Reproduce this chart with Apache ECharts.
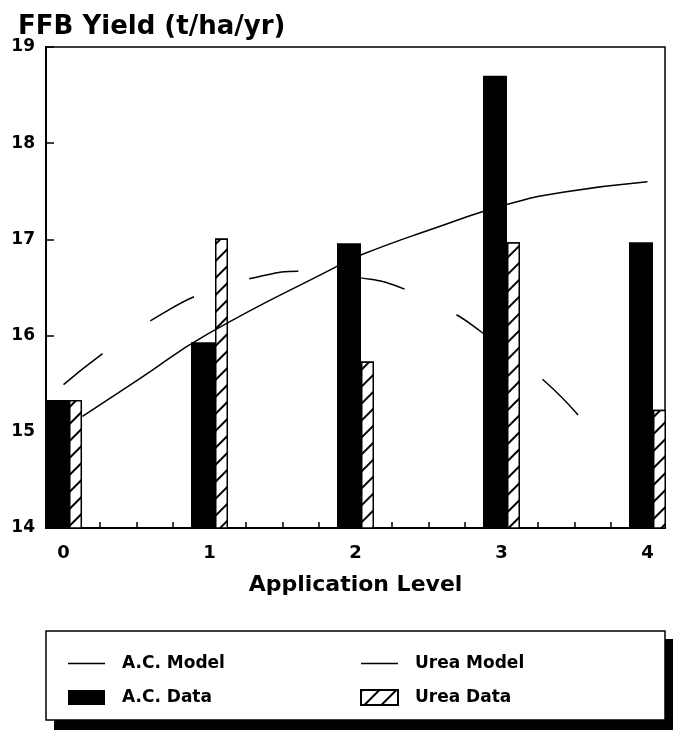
<!DOCTYPE html>
<html>
<head>
<meta charset="utf-8">
<script src="https://cdn.jsdelivr.net/npm/echarts@6/dist/echarts.min.js"></script>
<style>
html,body{margin:0;padding:0;background:#fff;}
#chart{width:673px;height:737px;}
</style>
</head>
<body>
<div id="chart"></div>
<script>
// ---- data ----
var levels = [0, 1, 2, 3, 4];
var acData = [15.33, 15.93, 16.96, 18.70, 16.97];
var ureaData = [15.33, 17.01, 15.73, 16.97, 15.23];
var acModelX = [0.13, 0.52, 0.98, 1.86, 2.04, 2.51, 3.03, 3.42, 4.0];
var acModelY = [15.16, 15.55, 16.01, 16.71, 16.84, 17.10, 17.36, 17.49, 17.60];
var ureaModelX = [0, 0.32, 0.68, 0.97, 1.33, 1.64, 2.04, 2.29, 2.64, 2.86, 3.30, 3.59];
var ureaModelY = [15.49, 15.87, 16.23, 16.45, 16.61, 16.67, 16.60, 16.51, 16.26, 16.04, 15.52, 15.06];
var yTicks = [14, 15, 16, 17, 18, 19];
var xMinorTicks = [0.25, 0.5, 0.75, 1.25, 1.5, 1.75, 2.25, 2.5, 2.75, 3.25, 3.5, 3.75];

function pairs(xs, ys) { return xs.map(function (x, i) { return [x, ys[i]]; }); }

var FONT = 'DejaVu Sans';
var hatch = {
  symbol: 'rect', symbolSize: 1,
  dashArrayX: [1, 0], dashArrayY: [1.6, 9.5],
  rotation: -Math.PI / 4,
  color: '#000', backgroundColor: '#fff'
};
var lineIcon = 'path://M0,0H37V1.5H0Z';

var chart = echarts.init(document.getElementById('chart'), null, {renderer: 'canvas'});
chart.setOption({
  animation: false,
  backgroundColor: '#fff',
  title: {
    text: 'FFB Yield (t/ha/yr)', left: 13, top: 9,
    textStyle: {fontFamily: FONT, fontWeight: 'bold', fontSize: 26, color: '#000'}
  },
  grid: {left: 46, top: 47, right: 8, bottom: 209, show: true, borderColor: '#000', borderWidth: 1.5, backgroundColor: 'transparent'},
  xAxis: {
    type: 'value', min: -0.12, max: 4.12,
    name: 'Application Level', nameLocation: 'middle', nameGap: 46,
    nameTextStyle: {fontFamily: FONT, fontWeight: 'bold', fontSize: 22, color: '#000'},
    axisLine: {show: true, onZero: false, lineStyle: {color: '#000', width: 2}},
    axisTick: {show: true, inside: true, length: 6, customValues: xMinorTicks, lineStyle: {color: '#000', width: 1.5}},
    axisLabel: {customValues: levels, margin: 16, fontFamily: FONT, fontWeight: 'bold', fontSize: 18, color: '#000'},
    splitLine: {show: false}
  },
  yAxis: {
    type: 'value', min: 14, max: 19, interval: 1,
    axisLine: {show: true, onZero: false, lineStyle: {color: '#000', width: 2}},
    axisTick: {show: true, inside: true, length: 8, customValues: yTicks, lineStyle: {color: '#000', width: 1.5}},
    axisLabel: {margin: 11, fontFamily: FONT, fontWeight: 'bold', fontSize: 17, color: '#000'},
    splitLine: {show: false}
  },
  legend: [
    {
      orient: 'vertical', left: 63, top: 650, itemWidth: 37, itemHeight: 15, itemGap: 17, z: 10,
      textStyle: {fontFamily: FONT, fontWeight: 'bold', fontSize: 17, color: '#000', padding: [0, 0, 0, 12]},
      data: [
        {name: 'A.C. Model', icon: lineIcon},
        {name: 'A.C. Data', icon: 'rect'}
      ]
    },
    {
      orient: 'vertical', left: 355, top: 650, itemWidth: 37, itemHeight: 15, itemGap: 17, z: 10,
      textStyle: {fontFamily: FONT, fontWeight: 'bold', fontSize: 17, color: '#000', padding: [0, 0, 0, 12]},
      data: [
        {name: 'Urea Model', icon: lineIcon},
        {name: 'Urea Data', icon: 'rect'}
      ]
    }
  ],
  graphic: [
    {type: 'rect', z: 1, shape: {x: 54, y: 639, width: 619, height: 91}, style: {fill: '#000'}},
    {type: 'rect', z: 2, shape: {x: 46, y: 631, width: 619, height: 89}, style: {fill: '#fff', stroke: '#000', lineWidth: 1.5}}
  ],
  series: [
    {
      name: 'A.C. Data', type: 'bar', barWidth: 24, barGap: '0%',
      data: pairs(levels, acData),
      itemStyle: {color: '#000'}
    },
    {
      name: 'Urea Data', type: 'bar', barWidth: 13, barGap: '0%',
      data: pairs(levels, ureaData),
      itemStyle: {color: '#fff', borderColor: '#000', borderWidth: 1.5, decal: hatch}
    },
    {
      name: 'A.C. Model', type: 'line', smooth: true, symbol: 'none', z: 3,
      data: pairs(acModelX, acModelY),
      lineStyle: {color: '#000', width: 1.5}, itemStyle: {color: '#000'}
    },
    {
      name: 'Urea Model', type: 'line', smooth: true, symbol: 'none', z: 3,
      data: pairs(ureaModelX, ureaModelY),
      lineStyle: {color: '#000', width: 1.5, type: [50, 58]}, itemStyle: {color: '#000'}
    }
  ]
});
</script>
</body>
</html>
